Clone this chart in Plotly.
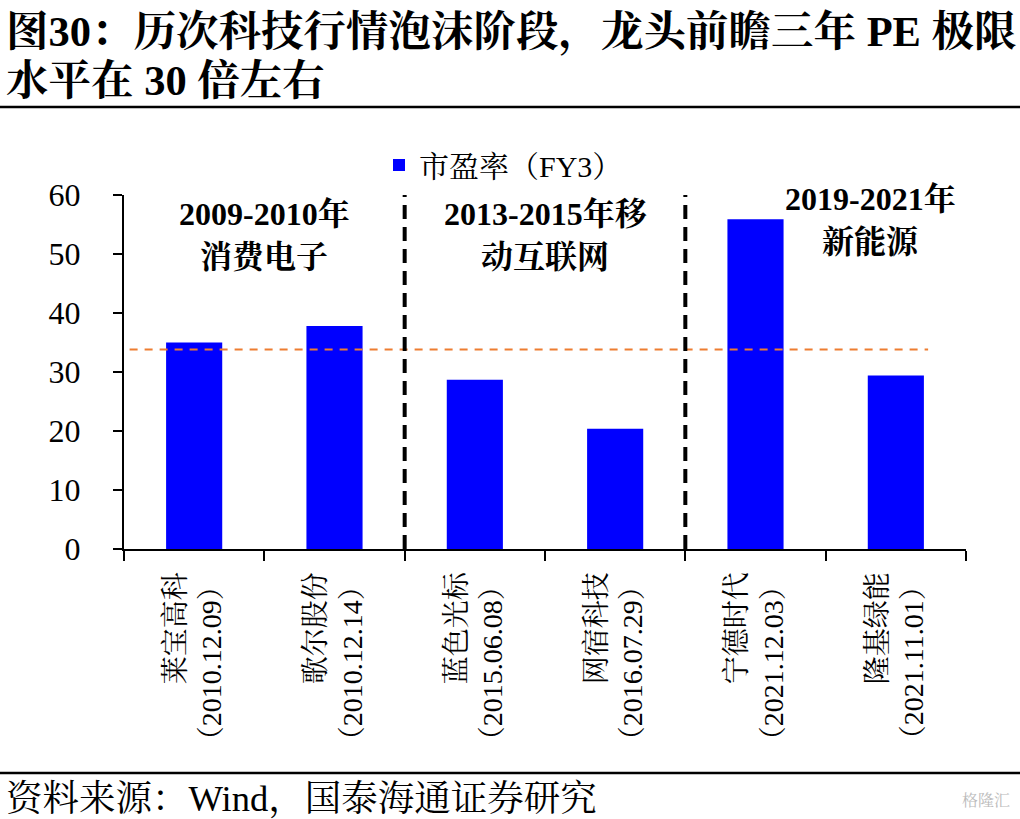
import plotly.graph_objects as go

categories = ["莱宝高科<br>（2010.12.09）", "歌尔股份<br>（2010.12.14）", "蓝色光标<br>（2015.06.08）",
              "网宿科技<br>（2016.07.29）", "宁德时代<br>（2021.12.03）", "隆基绿能<br>（2021.11.01）"]
pe_fy3 = [35.0, 37.8, 28.7, 20.4, 55.9, 29.4]
ref_level = 33.8
series_name = "市盈率（FY3）"
y_ticks = [0, 10, 20, 30, 40, 50, 60]

SERIF = "Liberation Serif, Times New Roman, Noto Serif CJK SC, Noto Sans CJK SC, serif"

L, R, T, B = 124, 54, 195, 270
W, H = 1020, 819
PW = W - L - R
PH = H - T - B

def px(xp):
    return (xp - L) / PW

def py(yp):
    return (H - B - yp) / PH

fig = go.Figure()
fig.add_trace(go.Bar(x=categories, y=pe_fy3, name=series_name, marker_color="#0000FF",
                     marker_line_width=0, width=0.4))

fig.update_layout(
    width=W, height=H,
    margin=dict(l=L, r=R, t=T, b=B, autoexpand=False),
    plot_bgcolor="white", paper_bgcolor="white",
    font=dict(family=SERIF, color="black", size=22),
    showlegend=True,
    legend=dict(orientation="h", x=px(379), y=py(165), xanchor="left", yanchor="middle",
                font=dict(size=30, family=SERIF), bgcolor="rgba(0,0,0,0)", itemwidth=30),
    bargap=0.6,
)
fig.update_xaxes(showline=True, linecolor="black", linewidth=2, ticks="outside", ticklen=10,
                 tickwidth=2, tickcolor="black", tickson="boundaries", tickangle=-90,
                 tickfont=dict(size=28, family=SERIF), showgrid=False, range=[-0.5, 5.5],
                 ticklabelstandoff=10, fixedrange=True, automargin=False)
fig.update_yaxes(range=[0, 60], tickvals=y_ticks, showline=True, linecolor="black", linewidth=2,
                 ticks="outside", ticklen=9, tickwidth=2, tickcolor="black", showgrid=False,
                 zeroline=False, tickfont=dict(size=32, family=SERIF), ticklabelstandoff=26,
                 automargin=False, fixedrange=True)

# reference horizontal dashed line
fig.add_shape(type="line", xref="x", yref="y", x0=-0.46, x1=5.23, y0=ref_level, y1=ref_level,
              line=dict(color="#ED7D31", width=2, dash="8px,7px"))
# separators
for xb in [1.5, 3.5]:
    fig.add_shape(type="line", xref="x", yref="y", x0=xb, x1=xb, y0=0, y1=61.5,
                  line=dict(color="black", width=4, dash="14px,8px"))

groups = [
    (0.5, 56.8, "2009-2010年", 49.5, "消费电子"),
    (2.5, 56.8, "2013-2015年移", 49.5, "动互联网"),
    (4.82, 59.3, "2019-2021年", 52.0, "新能源"),
]
for x, y1, t1, y2, t2 in groups:
    fig.add_annotation(x=x, y=y1, xref="x", yref="y", text="<b>" + t1 + "</b>", showarrow=False,
                       font=dict(size=32, family=SERIF), xanchor="center", yanchor="middle")
    fig.add_annotation(x=x, y=y2, xref="x", yref="y", text="<b>" + t2 + "</b>", showarrow=False,
                       font=dict(size=32, family=SERIF), xanchor="center", yanchor="middle")

# title
fig.add_annotation(x=px(4), y=py(32), xref="paper", yref="paper", xanchor="left", yanchor="middle",
                   text="<b>图30：历次科技行情泡沫阶段，龙头前瞻三年 PE 极限</b>", showarrow=False,
                   font=dict(size=42.5, family=SERIF))
fig.add_annotation(x=px(4), y=py(80), xref="paper", yref="paper", xanchor="left", yanchor="middle",
                   text="<b>水平在 30 倍左右</b>", showarrow=False,
                   font=dict(size=42.5, family=SERIF))
fig.add_shape(type="line", xref="paper", yref="paper", x0=px(0), x1=px(W), y0=py(107), y1=py(107),
              line=dict(color="black", width=2.5))
fig.add_shape(type="line", xref="paper", yref="paper", x0=px(0), x1=px(W), y0=py(773), y1=py(773),
              line=dict(color="black", width=2.5))
fig.add_annotation(x=px(4), y=py(798), xref="paper", yref="paper", xanchor="left", yanchor="middle",
                   text="资料来源：Wind，国泰海通证券研究", showarrow=False,
                   font=dict(size=36.5, family=SERIF))
fig.add_annotation(x=px(1012), y=py(800), xref="paper", yref="paper", xanchor="right", yanchor="middle",
                   text="格隆汇", showarrow=False, font=dict(size=16, color="#BBBBBB", family=SERIF))

fig.write_html("out.html", config={"displayModeBar": False},
               post_script="document.body.style.margin='0';")
